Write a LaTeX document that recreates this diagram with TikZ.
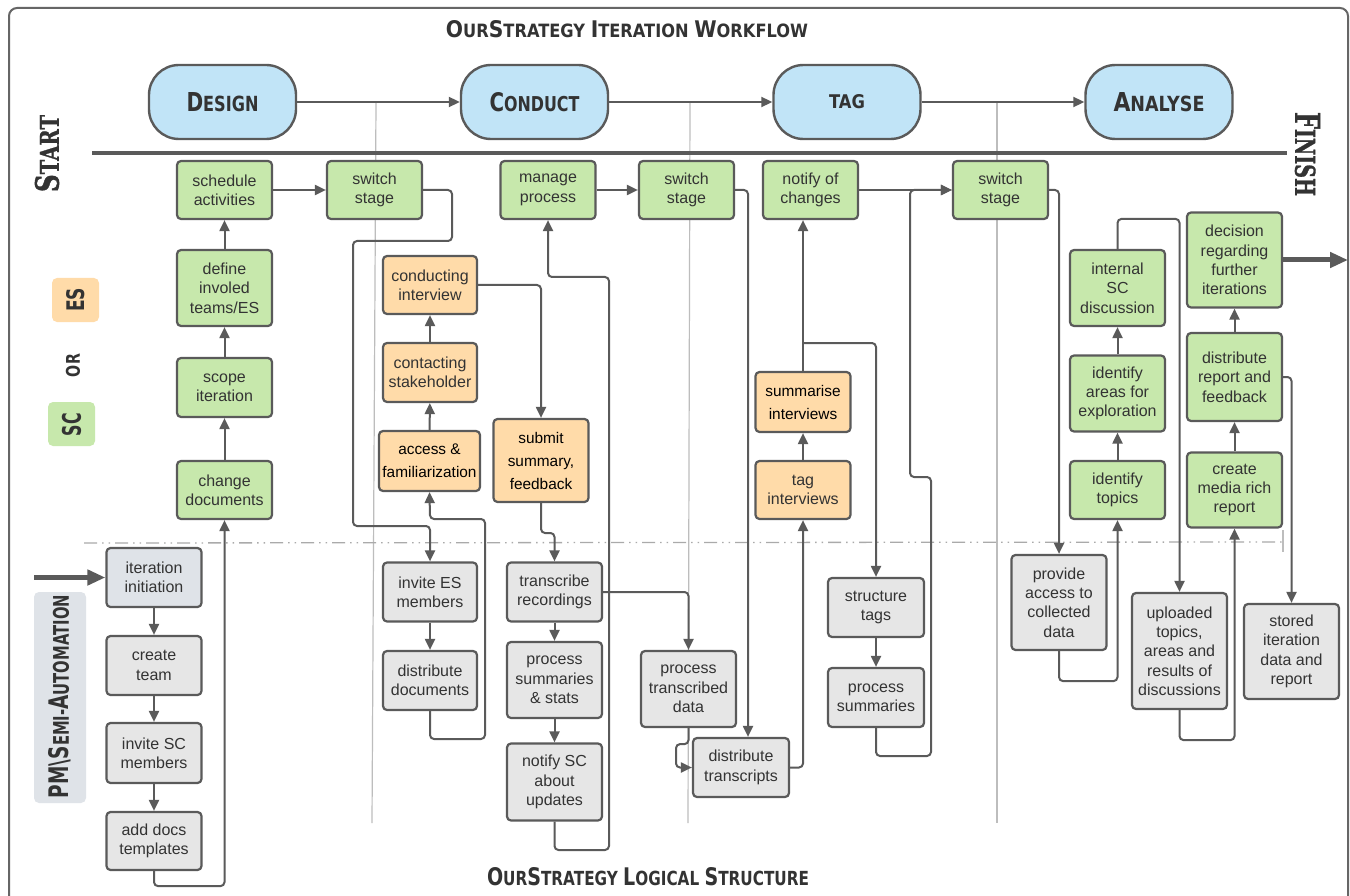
\documentclass[tikz,border=0pt]{standalone}
\usepackage{fontspec}
\setmainfont{Liberation Sans}
\newfontfamily\headfont{DejaVu Sans}
\newfontfamily\slabfont{DejaVu Serif}[FakeBold=1.2]
\usetikzlibrary{arrows.meta,calc}

\definecolor{bord}{HTML}{5A5A5A}
\definecolor{grn}{HTML}{C7E8AC}
\definecolor{org}{HTML}{FFDBA9}
\definecolor{gry}{HTML}{E6E6E6}
\definecolor{bgry}{HTML}{DFE3E8}
\definecolor{blu}{HTML}{C1E4F7}
\definecolor{txt}{HTML}{333333}
\definecolor{sepc}{HTML}{BDBDBD}
\definecolor{framec}{HTML}{666666}

% small caps built from two sizes of capitals
\newcommand\smc[2]{{\fontsize{20}{20}\selectfont #1}{\fontsize{16}{16}\selectfont #2}}

\tikzset{
  procbox/.style={draw=bord, line width=2.2pt, rounded corners=4pt, align=center,
    inner sep=0pt, text=txt, font=\fontsize{16}{19.3}\selectfont},
  sz/.style 2 args={minimum width=#1, minimum height=#2},
  greenbox/.style={procbox, fill=grn},
  orangebox/.style={procbox, fill=org},
  orangeblack/.style={procbox, fill=org, text=black, font=\fontsize{15.4}{23}\selectfont},
  graybox/.style={procbox, fill=gry},
  pill/.style={draw=bord, line width=2.4pt, fill=blu, rounded corners=30pt,
    minimum width=147pt, minimum height=74pt, inner sep=0pt, text=txt},
  conn/.style={draw=bord, line width=2pt, rounded corners=4pt},
  arr/.style={conn, -{Triangle[length=11pt,width=10pt]}},
  bigarrow/.style={draw=bord, line width=5pt, -{Triangle[length=18pt,width=15pt]}},
  sepline/.style={draw=sepc, line width=1.2pt},
  lanesep/.style={draw=sepc!90!black, line width=1.3pt,
    dash pattern=on 13pt off 5pt on 1.5pt off 5pt on 1.5pt off 5pt},
  legendbox/.style={rounded corners=5pt, inner sep=0pt},
  heading/.style={inner sep=0pt, text=txt}
}

\begin{document}
\begin{tikzpicture}[x=1pt,y=-1pt]
\fill[white] (0,0) rectangle (1350,896);
\useasboundingbox (0,0) rectangle (1350,896);

% outer frame
\draw[draw=framec, line width=2pt, rounded corners=8pt] (9,8) rectangle (1348,940);

% stage separators
\draw[sepline] (376,102) -- (372,823);
\draw[sepline] (690,102) -- (688,823);
\draw[sepline] (997,102) -- (997,823);

% lane separator
\draw[lanesep] (84,543) -- (1283,542);
\draw[draw=sepc, line width=1.2pt] (1283,530) -- (1283,552);

% main timeline
\draw[draw=bord, line width=4pt] (92,153) -- (1287,153);

% headings
\node[heading] (title) at (627,29) {\resizebox{362pt}{17pt}{\headfont\bfseries\fontsize{16}{16}\selectfont \smc{O}{UR}\smc{S}{TRATEGY} \smc{I}{TERATION} \smc{W}{ORKFLOW}}};
\node[heading] (subtitle) at (648,877) {\resizebox{322pt}{18pt}{\headfont\bfseries\fontsize{16}{16}\selectfont \smc{O}{UR}\smc{S}{TRATEGY} \smc{L}{OGICAL} \smc{S}{TRUCTURE}}};
\node[heading, rotate=90] (start) at (47,153.5) {\resizebox{77pt}{24pt}{\slabfont\bfseries \smc{S}{TART}}};
\node[heading, rotate=-90] (finish) at (1307.5,154) {\resizebox{84pt}{25pt}{\slabfont\bfseries \smc{F}{INISH}}};

% legend
\node[legendbox, fill=org, sz={47pt}{44pt}] (leges) at (75.5,300) {};
\node[heading, rotate=90] (es) at (76,300) {\resizebox{24pt}{18pt}{\headfont\bfseries ES}};
\node[heading, rotate=90] (or) at (73,365.5) {\resizebox{23pt}{14pt}{\headfont\bfseries OR}};
\node[legendbox, fill=grn, sz={47pt}{44pt}] (legsc) at (71.5,424) {};
\node[heading, rotate=90] (sc) at (71.5,424.5) {\resizebox{23pt}{19pt}{\headfont\bfseries SC}};
\node[legendbox, fill=bgry, sz={52pt}{211pt}] (legpm) at (60,697.5) {};
\node[heading, rotate=90] (pm) at (60,696.5) {\resizebox{203pt}{20pt}{\headfont\bfseries\fontsize{16}{16}\selectfont \smc{PM\textbackslash S}{EMI-}\smc{A}{UTOMATION}}};

% stages
\node[pill] (design) at (222.5,102) {\resizebox{72pt}{19pt}{\headfont\bfseries \smc{D}{ESIGN}}};
\node[pill] (conduct) at (534.5,102) {\resizebox{90pt}{19pt}{\headfont\bfseries \smc{C}{ONDUCT}}};
\node[pill] (tag) at (847,102) {\raisebox{-1pt}{\resizebox{36pt}{14pt}{\headfont\bfseries \smc{}{TAG}}}};
\node[pill] (analyse) at (1159,102) {\resizebox{91pt}{19pt}{\headfont\bfseries \smc{A}{NALYSE}}};

% SC activities
\node[greenbox, sz={95pt}{58pt}] (sched) at (224.5,190) {schedule\\activities};
\node[greenbox, sz={95pt}{58pt}] (sw1) at (374.5,190) {switch\\stage};
\node[greenbox, sz={95pt}{76pt}] (define) at (224.5,288) {define\\involed\\teams/ES};
\node[greenbox, sz={95pt}{59pt}] (scope) at (224.5,387.5) {scope\\iteration};
\node[greenbox, sz={95pt}{58pt}] (chdoc) at (224.5,490) {change\\documents};
\node[greenbox, sz={95pt}{58pt}] (manage) at (548,190) {manage\\process};
\node[greenbox, sz={95pt}{58pt}] (sw2) at (686.5,190) {switch\\stage};
\node[greenbox, sz={95pt}{58pt}] (notch) at (810.5,190) {notify of\\changes};
\node[greenbox, sz={95pt}{58pt}] (sw3) at (1000.5,190) {switch\\stage};
\node[greenbox, sz={95pt}{76pt}] (intsc) at (1117.5,288) {internal\\SC\\discussion};
\node[greenbox, sz={95pt}{76pt}] (areas) at (1117.5,393.5) {identify\\areas for\\exploration};
\node[greenbox, sz={95pt}{58pt}] (topics) at (1117.5,490) {identify\\topics};
\node[greenbox, sz={95pt}{95pt}] (decision) at (1234.5,260) {decision\\regarding\\further\\iterations};
\node[greenbox, sz={95pt}{88pt}] (distrep) at (1234.5,377) {distribute\\report and\\feedback};
\node[greenbox, sz={95pt}{75pt}] (media) at (1234.5,490) {create\\media rich\\report};

% ES activities
\node[orangebox, sz={94pt}{58pt}] (condint) at (430,285) {conducting\\interview};
\node[orangebox, sz={94pt}{59pt}] (contact) at (430,372.5) {contacting\\stakeholder};
\node[orangeblack, sz={101pt}{60pt}] (access) at (429.5,461) {access \&\\familiarization};
\node[orangeblack, sz={95pt}{83pt}] (submit) at (541,460.5) {submit\\summary,\\feedback};
\node[orangeblack, sz={95pt}{60pt}] (summ) at (803,402) {summarise\\interviews};
\node[orangebox, sz={95pt}{58pt}] (tagint) at (803,490) {tag\\interviews};

% PM / semi-automation activities
\node[graybox, fill=bgry, sz={95pt}{59pt}] (init) at (154,577.5) {iteration\\initiation};
\node[graybox, sz={95pt}{59pt}] (team) at (154,665.5) {create\\team};
\node[graybox, sz={95pt}{60pt}] (invsc) at (154,753) {invite SC\\members};
\node[graybox, sz={95pt}{58pt}] (docs) at (154,841) {add docs\\templates};
\node[graybox, sz={94pt}{59pt}] (inves) at (430,592) {invite ES\\members};
\node[graybox, sz={94pt}{59pt}] (distdoc) at (430,680.5) {distribute\\documents};
\node[graybox, sz={95pt}{59pt}] (transc) at (554.5,592) {transcribe\\recordings};
\node[graybox, sz={95pt}{76pt}] (procsum) at (554.5,680) {process\\summaries\\\& stats};
\node[graybox, sz={95pt}{77pt}] (notsc) at (554.5,782) {notify SC\\about\\updates};
\node[graybox, sz={95pt}{76pt}] (proctr) at (688.5,689) {process\\transcribed\\data};
\node[graybox, sz={96pt}{59pt}] (disttr) at (741,767.5) {distribute\\transcripts};
\node[graybox, sz={96pt}{59pt}] (struct) at (876,607.5) {structure\\tags};
\node[graybox, sz={96pt}{59pt}] (procs2) at (876,697.5) {process\\summaries};
\node[graybox, sz={95pt}{95pt}] (provide) at (1059,602.5) {provide\\access to\\collected\\data};
\node[graybox, sz={95pt}{116pt}] (upload) at (1179.5,651) {uploaded\\topics,\\areas and\\results of\\discussions};
\node[graybox, sz={95pt}{95pt}] (stored) at (1291.5,651.5) {stored\\iteration\\data and\\report};

% stage flow
\draw[arr] (design.east) -- (conduct.west);
\draw[arr] (conduct.east) -- (tag.west);
\draw[arr] (tag.east) -- (analyse.west);

% design
\draw[bigarrow] (34,577.5) -- (init.west);
\draw[arr] (init) -- (team);
\draw[arr] (team) -- (invsc);
\draw[arr] (invsc) -- (docs);
\draw[arr] (docs.south) -- ++(0,15) -| (chdoc.south);
\draw[arr] (chdoc) -- (scope);
\draw[arr] (scope) -- (define);
\draw[arr] (define) -- (sched);
\draw[arr] (sched.east) -- (sw1.west);

% conduct
\draw[arr] (sw1.east) -| (452,241) -| (353,526) -| (inves.north);
\draw[arr] (inves) -- (distdoc);
\draw[arr] (distdoc.south) |- (485,739) |- (430,519) -- (access.south);
\draw[arr] (access) -- (contact);
\draw[arr] (contact) -- (condint);
\draw[arr] (condint.east) -| (submit.north);
\draw[arr] (submit.south) -- (541,533) -| (transc.north);
\draw[arr] (transc) -- (procsum);
\draw[arr] (procsum) -- (notsc);
\draw[arr] (notsc.south) |- (609,850) |- (548,277) -- (manage.south);
\draw[arr] (manage.east) -- (sw2.west);

% tag
\draw[arr] (sw2.east) -| ([xshift=7pt]disttr.north);
\draw[arr] (transc.east) -| (proctr.north);
\draw[arr] (proctr.south) -- ++(0,16) -| (676,767.5) -- (disttr.west);
\draw[arr] (disttr.east) -| (tagint.south);
\draw[arr] (tagint) -- (summ);
\draw[arr] (summ.north) -- (summ.north |- notch.south);
\draw[arr] (803,343) -| (struct.north);
\draw[arr] (struct) -- (procs2);
\draw[arr] (procs2.south) |- (931,756) |- (910,477) |- (sw3.west);
\draw[arr] (notch.east) -- (sw3.west);

% analyse
\draw[arr] (sw3.east) -| (provide.north);
\draw[arr] (provide.south) -- ++(0,30) -| (topics.south);
\draw[arr] (topics) -- (areas);
\draw[arr] (areas) -- (intsc);
\draw[arr] (intsc.north) -- ++(0,-30) -| (upload.north);
\draw[arr] (upload.south) -- ++(0,30) -| (media.south);
\draw[arr] (media) -- (distrep);
\draw[arr] (distrep) -- (decision);
\draw[arr] (distrep.east) -| (stored.north);
\draw[bigarrow] (decision.east) -- (1348,260);
\end{tikzpicture}
\end{document}
